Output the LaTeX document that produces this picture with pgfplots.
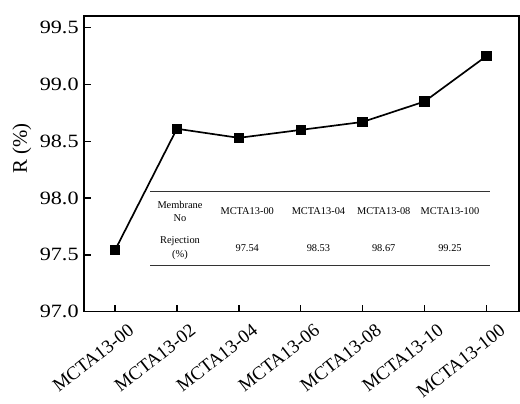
\documentclass[border=0pt]{standalone}
\usepackage{pgfplots}
\pgfplotsset{compat=1.18}
\usepackage{fontspec}
\setmainfont{Liberation Serif}
\newfontfamily\widefont[FakeStretch=1.18]{Liberation Serif}
\begin{document}
\begin{tikzpicture}
\begin{axis}[
  scale only axis,
  width=440bp, height=299bp,
  xmin=-0.5, xmax=6.53,
  ymin=97.0, ymax=99.605,
  xtick={0,1,2,3,4,5,6},
  xticklabels={MCTA13-00,MCTA13-02,MCTA13-04,MCTA13-06,MCTA13-08,MCTA13-10,MCTA13-100},
  ytick={97.0,97.5,98.0,98.5,99.0,99.5},
  /pgf/number format/assume math mode=true,
  yticklabel style={/pgf/number format/fixed,/pgf/number format/fixed zerofill,/pgf/number format/precision=1,font=\widefont\fontsize{19bp}{22bp}\selectfont, xshift=-2bp},
  xticklabel style={xshift=13bp, yshift=-7bp, rotate=38, anchor=north east, font=\fontsize{19bp}{22bp}\selectfont},
  xtick pos=bottom,
  ytick pos=left,
  tick align=inside,
  major tick length=7bp,
  axis line style={line width=1.6bp},
  every tick/.style={black, line width=1.5bp},
  clip=false,
]
\addplot[black, line width=1.7bp, mark=square*, mark size=4.4bp, mark options={solid}] coordinates {
(0,97.54) (1,98.61) (2,98.53) (3,98.60) (4,98.67) (5,98.85) (6,99.25)
};
\end{axis}
\node[rotate=90, font=\fontsize{21bp}{24bp}\selectfont] at (-63bp,165bp) {R (\%)};
\begin{scope}[every node/.style={font=\fontsize{10.5bp}{12.5bp}\selectfont, align=center, inner sep=0pt}]
\draw[line width=0.9bp, black!80] (67bp,121bp) -- (410bp,121bp);
\draw[line width=0.9bp, black!80] (67bp,47bp) -- (410bp,47bp);
\node at (97bp,101bp) {Membrane\\[1pt]No};
\node at (165bp,102bp) {MCTA13-00};
\node at (237bp,102bp) {MCTA13-04};
\node at (303bp,102bp) {MCTA13-08};
\node at (370bp,102bp) {MCTA13-100};
\node at (97bp,64bp) {Rejection\\[1pt](\%)};
\node at (165bp,64bp) {97.54};
\node at (237bp,64bp) {98.53};
\node at (303bp,64bp) {98.67};
\node at (370bp,64bp) {99.25};
\end{scope}
\path[use as bounding box] (-85bp,-79bp) rectangle (435bp,315bp);
\end{tikzpicture}
\end{document}
